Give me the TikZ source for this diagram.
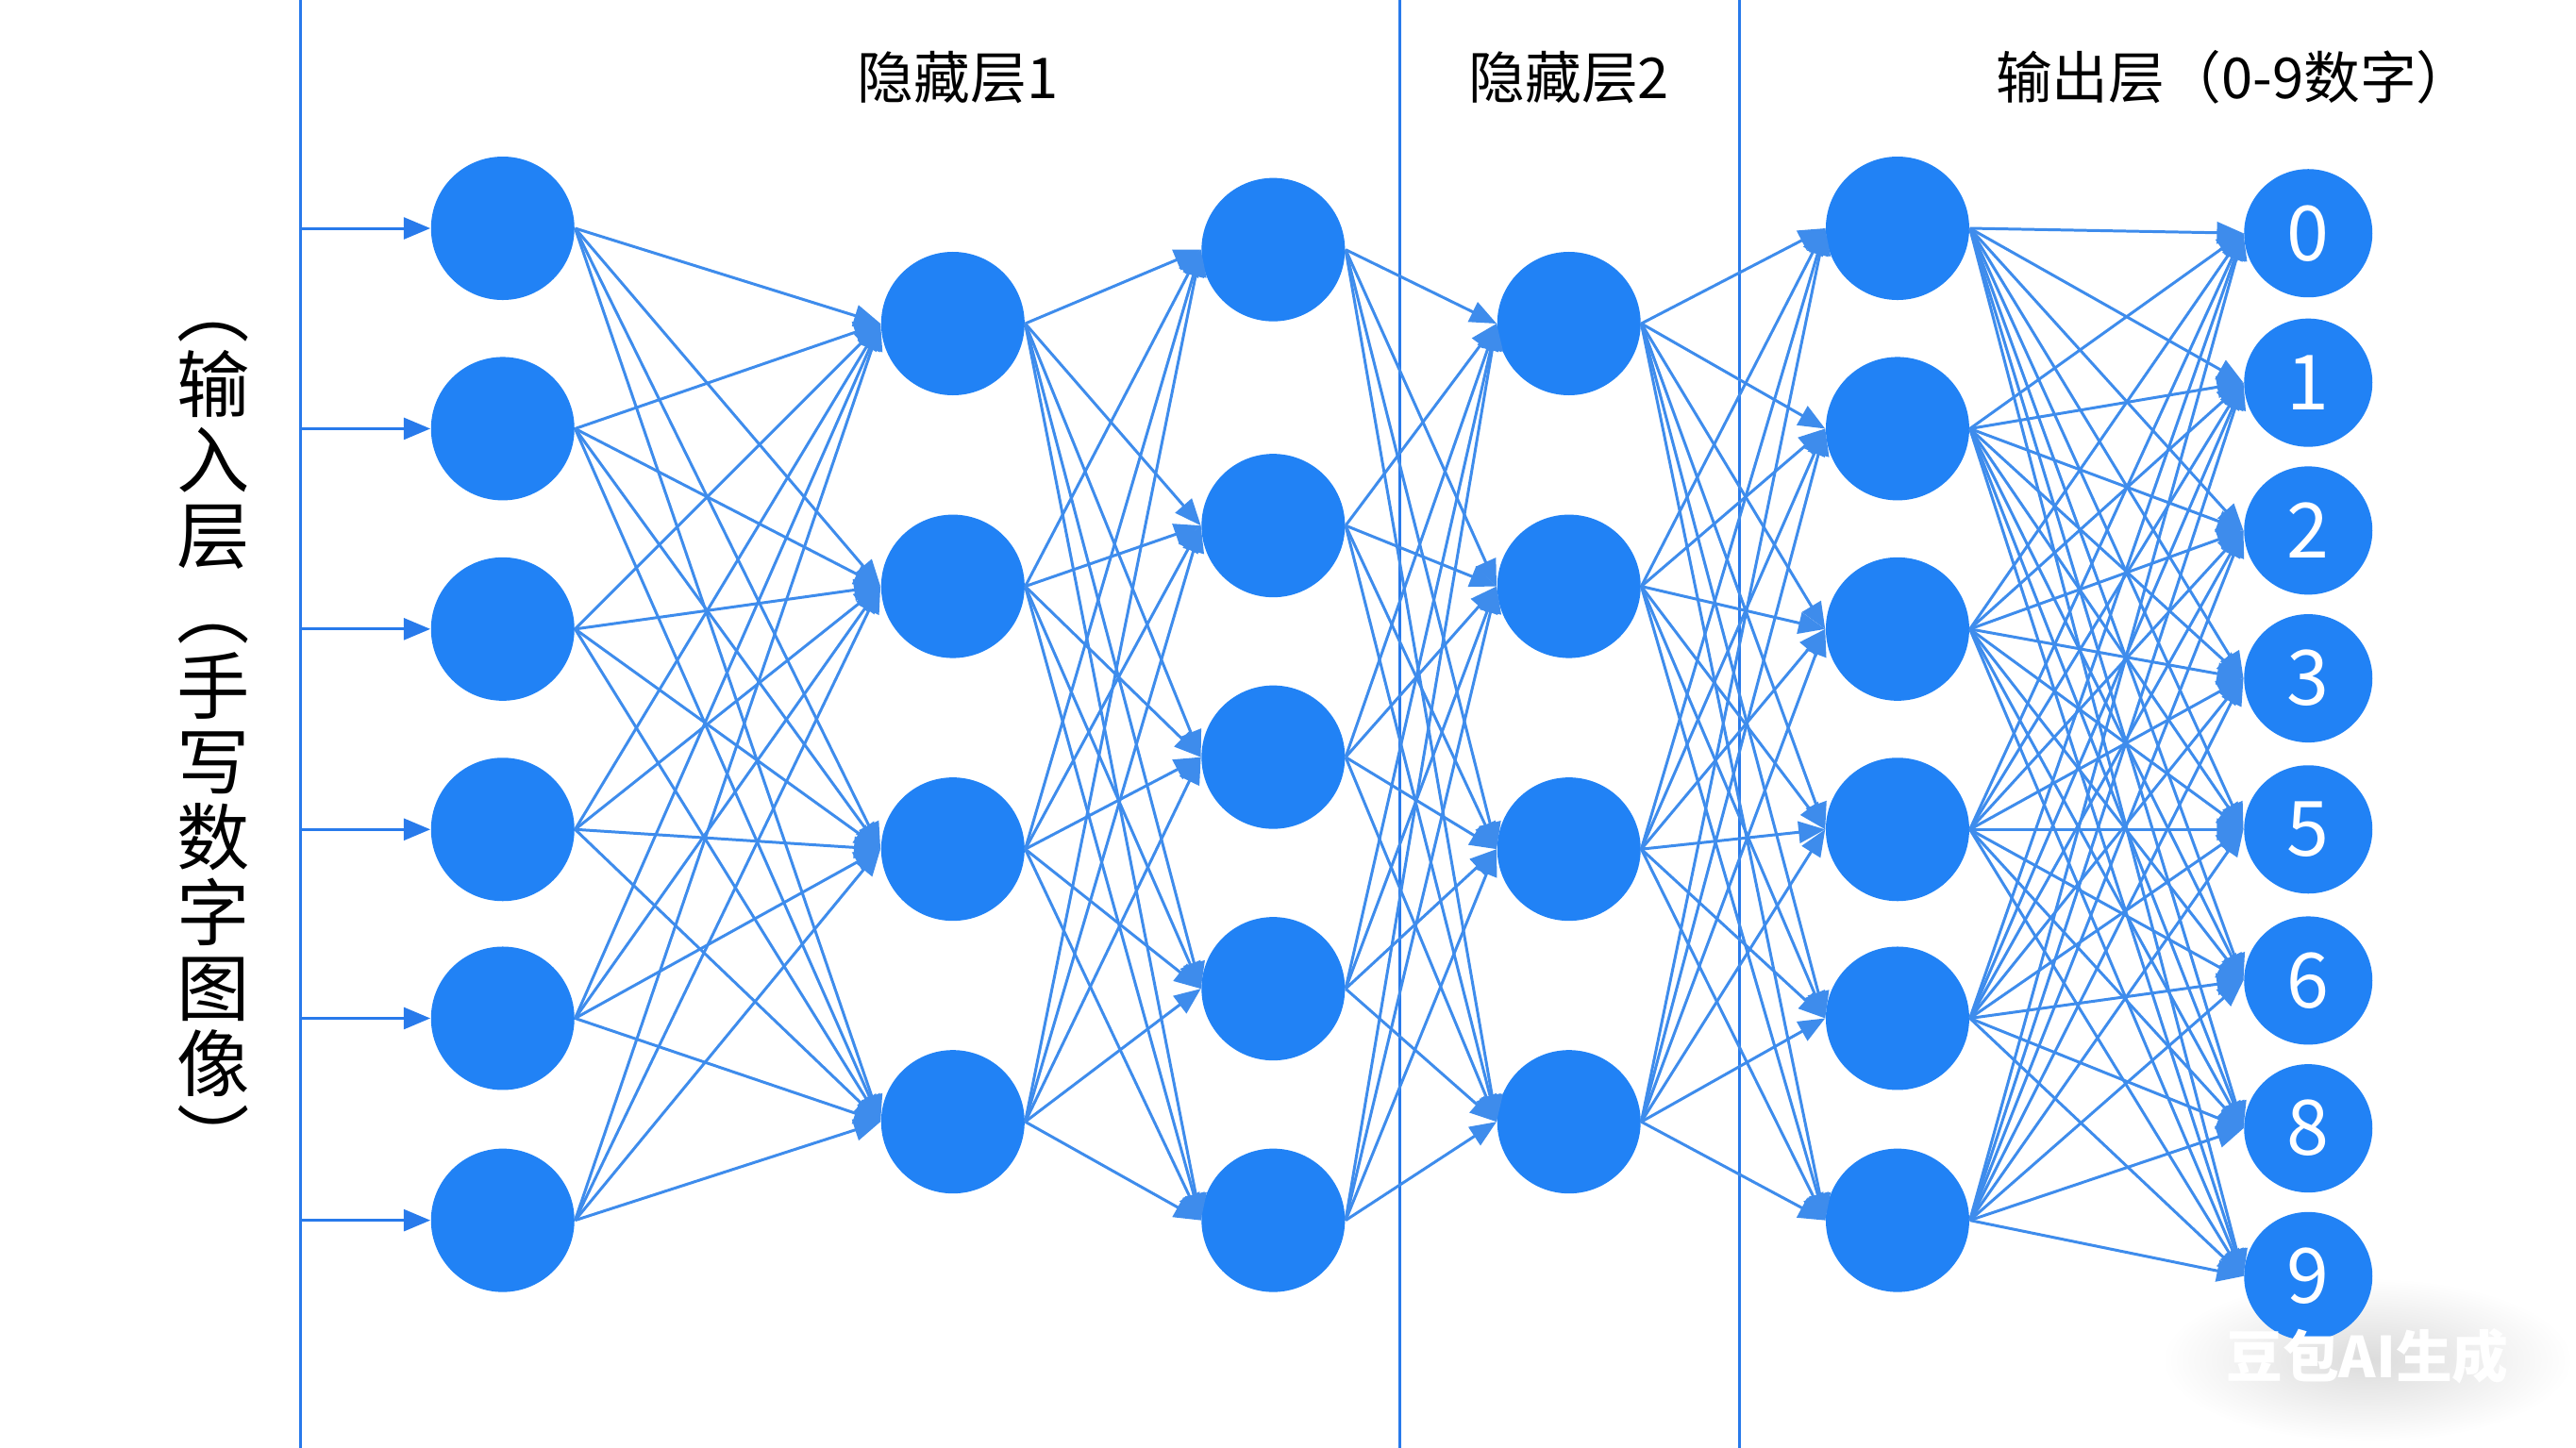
\documentclass[tikz,border=0pt]{standalone}
\usepackage{fontspec}
\setmainfont{Noto Sans CJK SC}
\usepackage{tikz}
\usetikzlibrary{arrows.meta}
\usepackage{xcolor}
\definecolor{nodeblue}{RGB}{33,130,245}
\definecolor{edgeblue}{RGB}{62,140,236}
\definecolor{ruleblue}{RGB}{40,122,235}

\begin{document}
\begin{tikzpicture}[x=0.017411cm, y=-0.017411cm,
    neuron/.style={circle, fill=nodeblue, inner sep=0pt, minimum size=1.52cm},
    digit/.style={circle, fill=nodeblue, inner sep=0pt, minimum size=1.36cm,
        text=white, font=\fontsize{23}{25}\selectfont},
    edge/.style={draw=edgeblue, line width=0.85pt, -{Triangle[length=8pt,width=6.5pt]}},
    title/.style={font=\fontsize{17}{20}\selectfont},
    vtext/.style={font=\fontsize{22}{22}\selectfont, inner sep=0pt, anchor=base}]
    \useasboundingbox (0,0) rectangle (1568,881.6);
    \fill[white] (0,0) rectangle (1568,881.6);

    % Layer separators
    \draw[ruleblue, line width=0.9pt] (183,0) -- (183,881.6);
    \draw[ruleblue, line width=0.9pt] (852,0) -- (852,881.6);
    \draw[ruleblue, line width=0.9pt] (1059,0) -- (1059,881.6);

    % Watermark halo
    \shade[inner color=black!14, outer color=white] (1441,828) ellipse [x radius=125, y radius=50];

    % Layer titles
    \node[title] (t1) at (583,47) {隐藏层1};
    \node[title] (t2) at (955,47) {隐藏层2};
    \node[title] (t3) at (1360,47) {输出层（0-9数字）};

    % Vertical input label
    \foreach \ch [count=\k from 0] in {︵,输,入,层,︵,手,写,数,字,图,像,︶}
        \node[vtext] (v\k) at (130, 204.7+45.95*\k) {\ch};

    % Neurons
    \foreach \y [count=\i] in {139,261,383,505,620,743}
        \node[neuron] (a\i) at (306,\y) {};
    \foreach \y [count=\i] in {197,357,517,683}
        \node[neuron] (b\i) at (580,\y) {};
    \foreach \y [count=\i] in {152,320,461,602,743}
        \node[neuron] (c\i) at (775,\y) {};
    \foreach \y [count=\i] in {197,357,517,683}
        \node[neuron] (d\i) at (955,\y) {};
    \foreach \y [count=\i] in {139,261,383,505,620,743}
        \node[neuron] (e\i) at (1155,\y) {};
    \foreach \y/\d [count=\i] in {142/0,233/1,323/2,413/3,505/5,597/6,687/8,777/9}
        \node[digit] (o\i) at (1405,\y) {\d};

    % Inputs
    \foreach \i in {1,...,6} {
        \coordinate (s\i) at (183, 0 |- a\i);
        \draw[edge, draw=ruleblue] (s\i) -- (a\i.west);
    }

    % Full connections
    \foreach \i in {1,...,6}
        \foreach \j in {1,...,4}
            \draw[edge] (a\i.east) -- (b\j.west);
    \foreach \i in {1,...,4}
        \foreach \j in {1,...,5}
            \draw[edge] (b\i.east) -- (c\j.west);
    \foreach \i in {1,...,5}
        \foreach \j in {1,...,4}
            \draw[edge] (c\i.east) -- (d\j.west);
    \foreach \i in {1,...,4}
        \foreach \j in {1,...,6}
            \draw[edge] (d\i.east) -- (e\j.west);
    \foreach \i in {1,...,6}
        \foreach \j in {1,...,8}
            \draw[edge] (e\i.east) -- (o\j.west);

    % Watermark
    \node[font=\bfseries\fontsize{17}{18}\selectfont, text=white] (wm) at (1441,826) {豆包AI生成};
\end{tikzpicture}
\end{document}
